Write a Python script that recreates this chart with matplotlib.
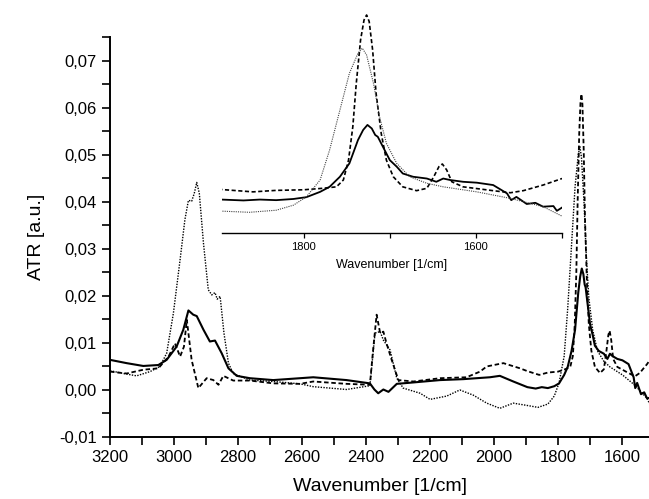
import matplotlib.pyplot as plt
from matplotlib.ticker import FuncFormatter, MultipleLocator

plt.rcParams["font.family"] = ["Liberation Sans", "DejaVu Sans"]

# wavenumber [1/cm] and ATR [a.u.] for the three spectra
solid_x = [3200, 3148, 3096, 3049, 3023, 2992, 2971, 2955, 2940, 2929, 2908,
           2888, 2872, 2851, 2830, 2804, 2763, 2690, 2606, 2565, 2461, 2388,
           2374, 2362, 2346, 2330, 2304, 2252, 2169, 2096, 2013, 1982, 1940,
           1896, 1870, 1851, 1832, 1812, 1797, 1781, 1770, 1758, 1747, 1737,
           1731, 1726, 1721, 1717, 1714, 1708, 1700, 1692, 1685, 1673, 1657,
           1646, 1638, 1630, 1615, 1599, 1580, 1564, 1559, 1553, 1541, 1531,
           1522, 1510, 1506, 1500]
solid_y = [0.0064, 0.0057, 0.0051, 0.0053, 0.0064, 0.0092, 0.0128, 0.0169,
           0.0160, 0.0157, 0.0128, 0.0103, 0.0105, 0.0078, 0.0046, 0.0030,
           0.0025, 0.0021, 0.0025, 0.0027, 0.0021, 0.0014, 0.0001, -0.0007,
           0.0001, -0.0004, 0.0013, 0.0016, 0.0021, 0.0023, 0.0027, 0.0030,
           0.0018, 0.0006, 0.0003, 0.0006, 0.0004, 0.0008, 0.0014, 0.0032,
           0.0049, 0.0083, 0.0128, 0.0207, 0.0241, 0.0258, 0.0246, 0.0224,
           0.0218, 0.0184, 0.0139, 0.0117, 0.0094, 0.0083, 0.0077, 0.0066,
           0.0077, 0.0072, 0.0066, 0.0063, 0.0055, 0.0027, 0.0004, 0.0015,
           -0.0009, -0.0005, -0.0018, -0.0016, -0.0032, -0.0021]

dashed_x = [3200, 3148, 3096, 3049, 3017, 2997, 2981, 2969, 2960, 2945, 2924,
            2898, 2877, 2861, 2846, 2815, 2763, 2690, 2606, 2565, 2461, 2388,
            2379, 2367, 2356, 2346, 2336, 2320, 2299, 2252, 2169, 2086, 2044,
            2023, 1971, 1919, 1896, 1859, 1832, 1800, 1778, 1762, 1754, 1748,
            1743, 1739, 1734, 1730, 1727, 1724, 1720, 1716, 1710, 1704, 1696,
            1685, 1669, 1657, 1649, 1643, 1639, 1634, 1628, 1615, 1580, 1560,
            1545, 1522, 1500]
dashed_y = [0.0039, 0.0035, 0.0043, 0.0046, 0.0071, 0.0099, 0.0071, 0.0092,
            0.0149, 0.0064, 0.0004, 0.0025, 0.0021, 0.0011, 0.0030, 0.0020,
            0.0020, 0.0014, 0.0013, 0.0018, 0.0013, 0.0011, 0.0078, 0.0160,
            0.0121, 0.0124, 0.0099, 0.0064, 0.0021, 0.0018, 0.0025, 0.0027,
            0.0039, 0.0050, 0.0057, 0.0046, 0.0040, 0.0032, 0.0037, 0.0039,
            0.0044, 0.0049, 0.0072, 0.0139, 0.0252, 0.0398, 0.0545, 0.0612,
            0.0629, 0.0607, 0.0511, 0.0365, 0.0229, 0.0139, 0.0083, 0.0049,
            0.0036, 0.0044, 0.0083, 0.0117, 0.0126, 0.0106, 0.0066, 0.0049,
            0.0036, 0.0029, 0.0036, 0.0055, 0.0077]

dotted_x = [3200, 3158, 3117, 3075, 3044, 3023, 3002, 2981, 2966, 2955, 2945,
            2937, 2929, 2921, 2908, 2893, 2882, 2872, 2865, 2856, 2844, 2830,
            2815, 2763, 2690, 2606, 2565, 2461, 2388, 2372, 2356, 2346, 2325,
            2304, 2284, 2231, 2200, 2148, 2107, 2065, 2023, 1982, 1940, 1896,
            1863, 1832, 1812, 1797, 1781, 1770, 1758, 1747, 1737, 1732, 1727,
            1719, 1712, 1704, 1692, 1677, 1657, 1638, 1599, 1560, 1522, 1500]
dotted_y = [0.0041, 0.0035, 0.0030, 0.0039, 0.0050, 0.0078, 0.0163, 0.0277,
            0.0362, 0.0403, 0.0401, 0.0417, 0.0441, 0.0418, 0.0312, 0.0213,
            0.0202, 0.0207, 0.0193, 0.0199, 0.0121, 0.0057, 0.0035, 0.0021,
            0.0018, 0.0013, 0.0007, 0.0001, 0.0009, 0.0121, 0.0124, 0.0106,
            0.0085, 0.0025, 0.0004, -0.0007, -0.0020, -0.0013, 0.0000,
            -0.0011, -0.0028, -0.0039, -0.0028, -0.0033, -0.0037, -0.0030,
            -0.0013, 0.0015, 0.0072, 0.0173, 0.0308, 0.0432, 0.0500, 0.0517,
            0.0494, 0.0398, 0.0286, 0.0196, 0.0128, 0.0083, 0.0061, 0.0049,
            0.0032, 0.0010, -0.0018, -0.0050]

y_ticks = [-0.01, 0.0, 0.01, 0.02, 0.03, 0.04, 0.05, 0.06, 0.07]
x_ticks = [3200, 3000, 2800, 2600, 2400, 2200, 2000, 1800, 1600]
inset_ticks = [1800, 1600]

comma = FuncFormatter(lambda v, pos: f"{v:.2f}".replace(".", ","))

fig = plt.figure(figsize=(6.49, 4.99), dpi=100)
ax = fig.add_axes([0.1695, 0.1242, 0.8305, 0.8016])

ax.plot(solid_x, solid_y, color="black", lw=1.5, ls="-")
ax.plot(dashed_x, dashed_y, color="black", lw=1.3, ls=(0, (2.5, 1.5)))
ax.plot(dotted_x, dotted_y, color="black", lw=1.0, ls=(0, (1, 1)))

ax.set_xlim(3200, 1516)
ax.set_ylim(-0.01, 0.075)
ax.set_xticks(x_ticks)
ax.set_yticks(y_ticks)
ax.xaxis.set_minor_locator(MultipleLocator(100))
ax.yaxis.set_minor_locator(MultipleLocator(0.005))
ax.yaxis.set_major_formatter(comma)
ax.tick_params(which="both", direction="out", length=5.5, width=1.2,
               labelsize=12, pad=4)
for side in ["top", "right"]:
    ax.spines[side].set_visible(False)
for side in ["left", "bottom"]:
    ax.spines[side].set_linewidth(1.4)
ax.set_xlabel("Wavenumber [1/cm]", fontsize=14, labelpad=9)
ax.set_ylabel("ATR [a.u.]", fontsize=14, labelpad=10)

# inset zoom on the carbonyl band
ins = fig.add_axes([0.342, 0.533, 0.524, 0.447], facecolor="none")
ins.plot(solid_x, solid_y, color="black", lw=1.3, ls="-")
ins.plot(dashed_x, dashed_y, color="black", lw=1.2, ls=(0, (2.5, 1.5)))
ins.plot(dotted_x, dotted_y, color="#444444", lw=0.8, ls=(0, (1, 1)))
ins.set_xlim(1895, 1500)
ins.set_ylim(-0.0107, 0.0646)
ins.set_xticks(inset_ticks)
ins.xaxis.set_minor_locator(MultipleLocator(100))
ins.set_yticks([])
for side in ["top", "right", "left"]:
    ins.spines[side].set_visible(False)
ins.spines["bottom"].set_linewidth(1.0)
ins.tick_params(which="both", direction="out", length=3.5, width=0.9,
                labelsize=8, pad=3)
ins.set_xlabel("Wavenumber [1/cm]", fontsize=9, labelpad=5)

fig.savefig("out.png", dpi=100)
